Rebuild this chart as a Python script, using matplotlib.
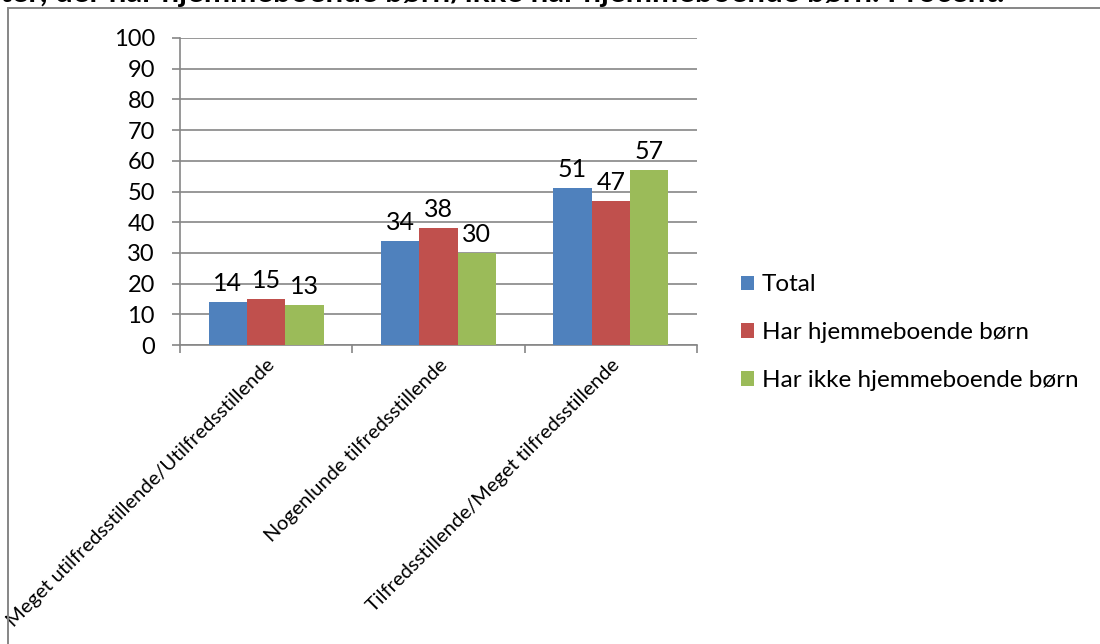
import matplotlib
matplotlib.use("Agg")
import matplotlib.pyplot as plt
from matplotlib.patches import Rectangle
import numpy as np

plt.rcParams['font.family'] = ['Lato', 'DejaVu Sans']

categories = ["Meget utilfredsstillende/Utilfredsstillende",
              "Nogenlunde tilfredsstillende",
              "Tilfredsstillende/Meget tilfredsstillende"]
series_names = ["Total", "Har hjemmeboende børn", "Har ikke hjemmeboende børn"]
total = [14, 34, 51]
har_boern = [15, 38, 47]
ikke_boern = [13, 30, 57]
colors = ["#4F81BD", "#C0504D", "#9BBB59"]
title = "ter, der har hjemmeboende børn/ikke har hjemmeboende børn. Procent."

W, H = 1100, 644
fig = plt.figure(figsize=(W / 100, H / 100), dpi=100)

# chart frame
fig.patches.append(Rectangle((8 / W, -0.1), 1.2, 1 - 8.5 / H + 0.1, transform=fig.transFigure,
                             fill=False, edgecolor="#868686", linewidth=1.4))

fig.text(0.0, 1 - 2 / H, title, fontsize=22.5, fontweight='bold', ha='left', va='baseline')

ax = fig.add_axes([180 / W, 1 - 345 / H, (697 - 180) / W, (345 - 38) / H])

grey = "#868686"
x = np.arange(len(categories))
bw = 1 / 4.5
for i, (vals, name, c) in enumerate(zip([total, har_boern, ikke_boern], series_names, colors)):
    pos = x + (i - 1) * bw
    ax.bar(pos, vals, width=bw, color=c, label=name, zorder=3)
    for xp, v in zip(pos, vals):
        ax.annotate(str(v), (xp, v), xytext=(0, 5), textcoords='offset points',
                    ha='center', va='bottom', fontsize=18)

ax.set_xlim(-0.5, len(categories) - 0.5)
ax.set_ylim(0, 100)
ax.set_yticks(range(0, 101, 10))
ax.yaxis.grid(True, color=grey, linewidth=1.2, zorder=0)
ax.set_axisbelow(True)
for s in ["top", "right"]:
    ax.spines[s].set_visible(False)
for s in ["left", "bottom"]:
    ax.spines[s].set_color(grey)
    ax.spines[s].set_linewidth(1.2)
ax.tick_params(axis='y', length=6, color=grey, width=1.2, labelsize=17, pad=12)

ax.set_xticks(np.arange(-0.5, len(categories), 1.0))
ax.set_xticklabels([])
ax.tick_params(axis='x', length=6, color=grey, width=1.2)
ax.set_xticks(x, minor=True)
ax.set_xticklabels(categories, minor=True, rotation=45, ha='right', va='top',
                   rotation_mode='anchor', fontsize=14.5)
ax.tick_params(axis='x', which='minor', length=0, pad=8)

ax.legend(loc='center left', bbox_to_anchor=(1.043, 0.04), frameon=False,
          fontsize=17.5, handlelength=0.55, handleheight=0.55, handletextpad=0.3,
          labelspacing=1.1)

fig.savefig("out.png", dpi=100)
